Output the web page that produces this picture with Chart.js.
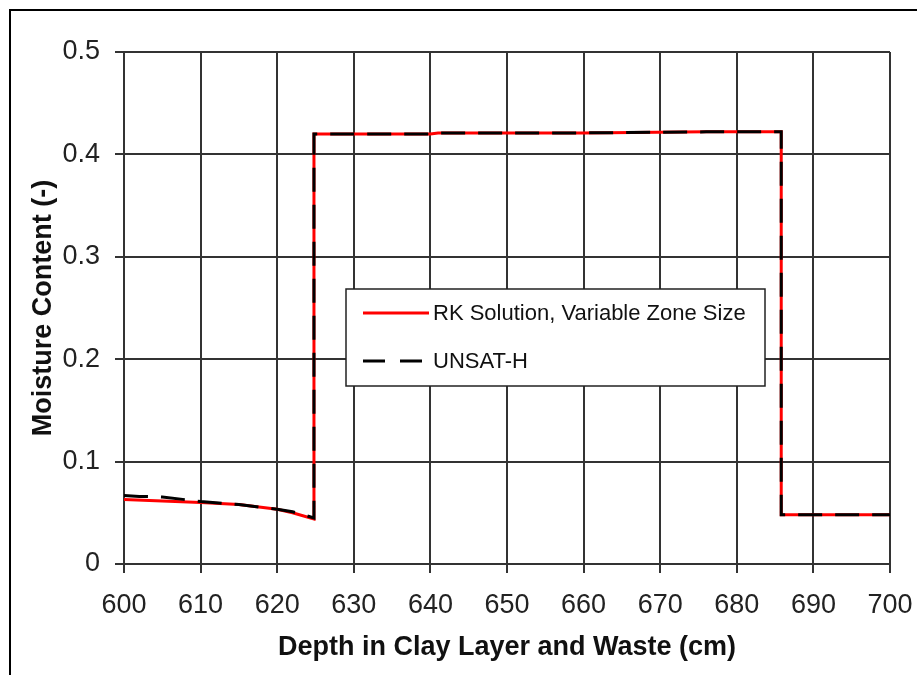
<!DOCTYPE html>
<html>
<head>
<meta charset="utf-8">
<script src="https://cdn.jsdelivr.net/npm/chart.js@4/dist/chart.umd.min.js"></script>
<style>
  html, body { margin: 0; padding: 0; background: #ffffff; }
  canvas { display: block; }
</style>
</head>
<body>
<canvas id="chart" width="917" height="675"></canvas>
<script>
// Depth (cm) and moisture content (-) for the two solutions
const rkDepth = [600, 605, 610, 615, 620, 622, 624.8, 624.8, 640, 641, 660, 676, 685.8, 685.8, 700];
const rkMoisture = [0.063, 0.0615, 0.060, 0.058, 0.0535, 0.050, 0.044, 0.420, 0.420, 0.421, 0.421, 0.422, 0.422, 0.048, 0.048];

const unsatDepth = [600, 602, 605, 610, 615, 620, 622, 624.8, 624.8, 640, 641, 660, 676, 685.8, 685.8, 700];
const unsatMoisture = [0.067, 0.066, 0.0655, 0.061, 0.058, 0.0535, 0.051, 0.045, 0.420, 0.420, 0.421, 0.421, 0.422, 0.422, 0.048, 0.048];

const xTicks = { min: 600, max: 700, step: 10 };
const yTicks = { min: 0, max: 0.5, step: 0.1 };

const seriesNames = ['RK Solution, Variable Zone Size', 'UNSAT-H'];
const xTitle = 'Depth in Clay Layer and Waste (cm)';
const yTitle = 'Moisture Content (-)';

const toPoints = (xs, ys) => xs.map((x, i) => ({ x: x, y: ys[i] }));

const gridColor = '#333333';
const fontFamily = '"Liberation Sans", Arial, sans-serif';

// Thin frame round the whole figure
const framePlugin = {
  id: 'frame',
  beforeDraw(chart) {
    const ctx = chart.ctx;
    ctx.save();
    ctx.fillStyle = '#ffffff';
    ctx.fillRect(0, 0, chart.width, chart.height);
    ctx.strokeStyle = '#000000';
    ctx.lineWidth = 2;
    ctx.strokeRect(10, 10, chart.width + 20, chart.height + 20);
    ctx.restore();
  }
};

// Boxed legend sitting inside the plot area
const boxLegendPlugin = {
  id: 'boxLegend',
  afterDatasetsDraw(chart, args, opts) {
    const ctx = chart.ctx;
    const b = opts.box;
    ctx.save();
    ctx.fillStyle = '#ffffff';
    ctx.fillRect(b.x, b.y, b.w, b.h);
    ctx.strokeStyle = '#222222';
    ctx.lineWidth = 1.5;
    ctx.strokeRect(b.x, b.y, b.w, b.h);
    ctx.font = opts.font;
    ctx.textBaseline = 'middle';
    ctx.textAlign = 'left';
    chart.data.datasets.forEach((ds, i) => {
      const y = b.y + opts.firstRow + i * opts.rowGap;
      ctx.strokeStyle = ds.borderColor;
      ctx.lineWidth = ds.borderWidth;
      ctx.setLineDash(opts.dashes[i]);
      ctx.beginPath();
      ctx.moveTo(b.x + opts.lineStart, y);
      ctx.lineTo(b.x + opts.lineStart + opts.lineLen, y);
      ctx.stroke();
      ctx.setLineDash([]);
      ctx.fillStyle = '#111111';
      ctx.fillText(ds.label, b.x + opts.textStart, y + 1);
    });
    ctx.restore();
  }
};

new Chart(document.getElementById('chart'), {
  type: 'line',
  data: {
    datasets: [
      {
        label: seriesNames[0],
        data: toPoints(rkDepth, rkMoisture),
        borderColor: '#ff0000',
        borderWidth: 3,
        pointRadius: 0,
        tension: 0,
        fill: false,
        order: 1
      },
      {
        label: seriesNames[1],
        data: toPoints(unsatDepth, unsatMoisture),
        borderColor: '#000000',
        borderWidth: 3,
        borderDash: [24, 13],
        pointRadius: 0,
        tension: 0,
        fill: false,
        order: 0
      }
    ]
  },
  options: {
    responsive: false,
    animation: false,
    devicePixelRatio: 1,
    layout: { padding: { left: 0, top: 52, right: 27, bottom: 0 } },
    plugins: {
      legend: { display: false },
      tooltip: { enabled: false },
      boxLegend: {
        box: { x: 346, y: 289, w: 419, h: 97 },
        firstRow: 24,
        rowGap: 48,
        lineStart: 17,
        lineLen: 66,
        textStart: 87,
        dashes: [[], [22, 15]],
        font: '22px ' + fontFamily
      }
    },
    scales: {
      x: {
        type: 'linear',
        min: xTicks.min,
        max: xTicks.max,
        afterFit(scale) {
          scale.height = 111;
          scale.paddingLeft = 0;
          scale.paddingRight = 0;
        },
        ticks: {
          stepSize: xTicks.step,
          color: '#222222',
          padding: 16,
          maxRotation: 0,
          font: { family: fontFamily, size: 27 }
        },
        grid: { color: gridColor, lineWidth: 2, tickLength: 9, drawTicks: true },
        border: { color: gridColor, width: 2 },
        title: {
          display: true,
          text: xTitle,
          color: '#111111',
          padding: { top: 0, bottom: 11 },
          font: { family: fontFamily, size: 27, weight: 'bold' }
        }
      },
      y: {
        type: 'linear',
        min: yTicks.min,
        max: yTicks.max,
        afterFit(scale) { scale.width = 124; },
        ticks: {
          stepSize: yTicks.step,
          color: '#222222',
          padding: 15,
          font: { family: fontFamily, size: 27 }
        },
        grid: { color: gridColor, lineWidth: 2, tickLength: 9, drawTicks: true },
        border: { color: gridColor, width: 2 },
        title: {
          display: true,
          text: yTitle,
          color: '#111111',
          padding: { top: 27, bottom: 0 },
          font: { family: fontFamily, size: 27, weight: 'bold' }
        }
      }
    }
  },
  plugins: [framePlugin, boxLegendPlugin]
});
</script>
</body>
</html>
